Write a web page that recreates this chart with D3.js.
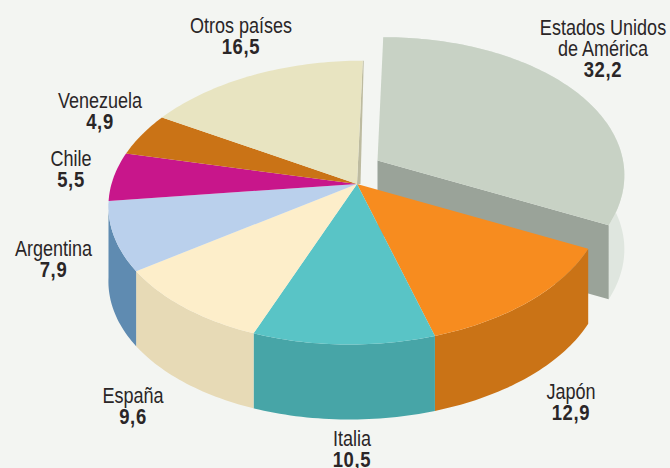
<!DOCTYPE html>
<html>
<head>
<meta charset="utf-8">
<script src="https://cdn.jsdelivr.net/npm/d3@7"></script>
<style>
html,body{margin:0;padding:0;background:#f3f5f2;}
svg{display:block;}
text{font-family:"Liberation Sans",sans-serif;fill:#2a2627;text-anchor:middle;}
</style>
</head>
<body>
<svg id="c" width="670" height="468"></svg>
<script>
const categories = ["Estados Unidos de América","Japón","Italia","España","Argentina","Chile","Venezuela","Otros países"];
const values = [32.2,12.9,10.5,9.6,7.9,5.5,4.9,16.5];
const valueLabels = ["32,2","12,9","10,5","9,6","7,9","5,5","4,9","16,5"];
const topColors = ["#c8d2c5","#f78c1f","#59c4c6","#fdeeca","#bad0ec","#c8168b","#ca7316","#e8e4c1"];
const wallColors = ["#dfe6df","#ca7316","#47a5a7","#e7dab6","#5f8bb1",null,null,null];
const labelLines = [["Estados Unidos","de América"],["Japón"],["Italia"],["España"],["Argentina"],["Chile"],["Venezuela"],["Otros países"]];
const labelX = [603,571,352,133,53.5,71,100,241];
const labelY = [35,399,446,403,256,166,108,33];

const svg = d3.select("#c");
const ax=357, ay=184, X=245.5, Y=139.5, P=0.131, S=6.5, DEPTH=75;
const explode=[20.5,-23.5];
const lineGap=21;
function proj(theta){
  const u=Math.sin(theta), v=Math.cos(theta), s=1/(1+P*v);
  return [ax+(X*u+S*v)*s, ay-Y*v*s];
}
function rim(a0,a1,dx=0,dy=0){
  const n=Math.max(2,Math.ceil((a1-a0)/0.02));
  return d3.range(n+1).map(i=>{const p=proj(a0+(a1-a0)*i/n);return [p[0]+dx,p[1]+dy];});
}
const line=d3.line();
const arcs=d3.pie().sort(null).startAngle(0).endAngle(2*Math.PI).value(d=>d)(values);
const leftExtreme=1.5*Math.PI-Math.asin(P);

function wedge(a,dx,dy){ return line([[ax+dx,ay+dy],...rim(a.startAngle,a.endAngle,dx,dy)])+"Z"; }
function wall(a0,a1,dx,dy,h){
  const t=rim(a0,a1,dx,dy);
  const b=t.map(p=>[p[0],p[1]+h]).reverse();
  return line([...t,...b])+"Z";
}

// exploded slice
const us=arcs[0], [ex,ey]=explode, usDepth=DEPTH-1;
svg.append("path").attr("d",wall(us.startAngle,us.endAngle,ex,ey,usDepth)).attr("fill",wallColors[0]);
const e=proj(us.endAngle);
svg.append("path").attr("d",line([[ax+ex,ay+ey],[e[0]+ex,e[1]+ey],[e[0]+ex,e[1]+ey+usDepth],[ax+ex,ay+ey+usDepth]])+"Z").attr("fill","#9aa399");
svg.append("path").attr("d",wedge(us,ex,ey)).attr("fill",topColors[0]);

// thin cut edge of the last slice
const p0=proj(0);
svg.append("path").attr("d",line([[ax,ay],[p0[0],p0[1]],[p0[0]+1,p0[1]],[ax+3.5,ay]])+"Z").attr("fill","#bdbba0");

// front walls
arcs.slice(1,5).forEach(a=>{
  svg.append("path").attr("d",wall(a.startAngle,Math.min(a.endAngle,leftExtreme),0,0,DEPTH)).attr("fill",wallColors[a.index]);
});
// top faces
arcs.slice(1).forEach(a=>{
  svg.append("path").attr("d",wedge(a,0,0)).attr("fill",topColors[a.index]);
});

// labels (condensed by a horizontal scale, no narrow face being installed)
function label(x,y,str,bold){
  const t=svg.append("text").attr("transform",`translate(${x},${y}) scale(${bold?0.84:0.82},1)`)
    .attr("font-size",22).text(str);
  if(bold) t.attr("font-weight","bold").style("letter-spacing","0.8px");
}
categories.forEach((c,i)=>{
  const lines=labelLines[i];
  lines.forEach((l,j)=>label(labelX[i],labelY[i]+j*lineGap,l,false));
  label(labelX[i],labelY[i]+lines.length*lineGap,valueLabels[i],true);
});
</script>
</body>
</html>
